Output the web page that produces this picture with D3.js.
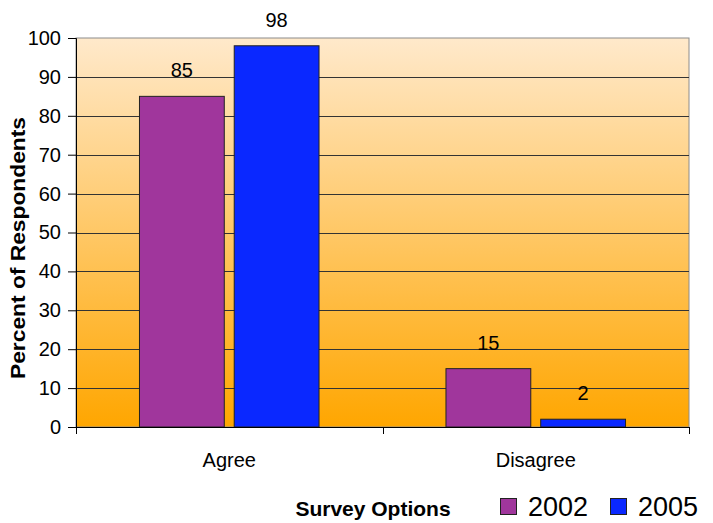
<!DOCTYPE html>
<html>
<head>
<meta charset="utf-8">
<script src="https://cdn.jsdelivr.net/npm/d3@7"></script>
<style>
  html, body { margin: 0; padding: 0; background: #fff; }
  svg { display: block; font-family: "Liberation Sans", Arial, sans-serif; }
</style>
</head>
<body>
<svg id="chart" width="713" height="523"></svg>
<script>
// Survey response shares by option and year
const categories = ["Agree", "Disagree"];
const years = ["2002", "2005"];
const values2002 = [85, 15];
const values2005 = [98, 2];
const yTicks = [0, 10, 20, 30, 40, 50, 60, 70, 80, 90, 100];
const seriesColors = ["#A0369C", "#0A28FF"];

const svg = d3.select("#chart");
const plot = { left: 76, right: 689, top: 38, bottom: 427 };
const FONT = "Liberation Sans, Arial, sans-serif";

const x = d3.scaleBand().domain(categories).range([plot.left, plot.right]).paddingInner(0).paddingOuter(0);
const xInner = d3.scaleBand().domain(years).range([0, x.bandwidth()]).paddingInner(0.105).paddingOuter(0.67);
const y = d3.scaleLinear().domain([0, 100]).range([plot.bottom, plot.top]);

// Background gradient of the plotting area
const defs = svg.append("defs");
const grad = defs.append("linearGradient").attr("id", "bg").attr("x1", 0).attr("y1", 0).attr("x2", 0).attr("y2", 1);
grad.append("stop").attr("offset", "0%").attr("stop-color", "#FFE9CB");
grad.append("stop").attr("offset", "100%").attr("stop-color", "#FFA600");

svg.append("rect")
  .attr("x", plot.left).attr("y", plot.top)
  .attr("width", plot.right - plot.left).attr("height", plot.bottom - plot.top)
  .attr("fill", "url(#bg)")
  .attr("stroke", "#8c8c8c").attr("stroke-width", 1);

// Horizontal gridlines
svg.append("g").selectAll("line").data(yTicks.filter(d => d > 0 && d < 100)).join("line")
  .attr("x1", plot.left).attr("x2", plot.right)
  .attr("y1", d => Math.round(y(d)) + 0.5).attr("y2", d => Math.round(y(d)) + 0.5)
  .attr("stroke", "#333").attr("stroke-width", 1);

// Bars
const data = categories.map((c, i) => ({ cat: c, vals: [values2002[i], values2005[i]] }));
const groups = svg.append("g").selectAll("g").data(data).join("g")
  .attr("transform", d => `translate(${x(d.cat)},0)`);

groups.selectAll("rect").data(d => d.vals.map((v, j) => ({ year: years[j], v, j }))).join("rect")
  .attr("x", d => xInner(d.year))
  .attr("y", d => y(d.v))
  .attr("width", xInner.bandwidth())
  .attr("height", d => y(0) - y(d.v))
  .attr("fill", d => seriesColors[d.j])
  .attr("stroke", "#222").attr("stroke-width", 1);

groups.selectAll("text").data(d => d.vals.map((v, j) => ({ year: years[j], v, j }))).join("text")
  .attr("x", d => xInner(d.year) + xInner.bandwidth() / 2)
  .attr("y", d => y(d.v) - 19)
  .attr("text-anchor", "middle")
  .attr("font-size", 20)
  .attr("fill", "#000")
  .text(d => d.v);

// Y axis
const yAxis = d3.axisLeft(y).tickValues(yTicks).tickSize(8).tickPadding(7);
const gy = svg.append("g").attr("transform", `translate(${plot.left},0)`).call(yAxis)
  .attr("font-size", 20).attr("font-family", FONT);
gy.select(".domain").attr("stroke", "#000");
gy.selectAll(".tick line").attr("stroke", "#000");
gy.selectAll(".tick text").attr("fill", "#000");

// X axis
const xAxis = d3.axisBottom(x).tickSize(0).tickPadding(26);
const gx = svg.append("g").attr("transform", `translate(0,${plot.bottom})`).call(xAxis)
  .attr("font-size", 20).attr("font-family", FONT);
gx.select(".domain").attr("stroke", "#000");
gx.selectAll(".tick text").attr("fill", "#000");
// category separators
svg.append("g").selectAll("line").data([plot.left, x("Disagree"), plot.right]).join("line")
  .attr("x1", d => Math.round(d) + 0.5).attr("x2", d => Math.round(d) + 0.5)
  .attr("y1", plot.bottom).attr("y2", plot.bottom + 7)
  .attr("stroke", "#000");

// Axis titles
svg.append("text")
  .attr("transform", `translate(25,248) rotate(-90)`)
  .attr("text-anchor", "middle")
  .attr("font-size", 21).attr("font-weight", "bold")
  .attr("textLength", 262).attr("lengthAdjust", "spacingAndGlyphs")
  .text("Percent of Respondents");

svg.append("text")
  .attr("x", 373).attr("y", 516)
  .attr("text-anchor", "middle")
  .attr("font-size", 21).attr("font-weight", "bold")
  .text("Survey Options");

// Legend
const legend = svg.append("g").selectAll("g").data(years).join("g")
  .attr("transform", (d, i) => `translate(${500 + i * 110},498)`);
legend.append("rect")
  .attr("x", 0.5).attr("y", 0.5).attr("width", 16).attr("height", 16)
  .attr("fill", (d, i) => seriesColors[i])
  .attr("stroke", "#222");
legend.append("text")
  .attr("x", 28).attr("y", 18)
  .attr("font-size", 27)
  .text(d => d);
</script>
</body>
</html>
